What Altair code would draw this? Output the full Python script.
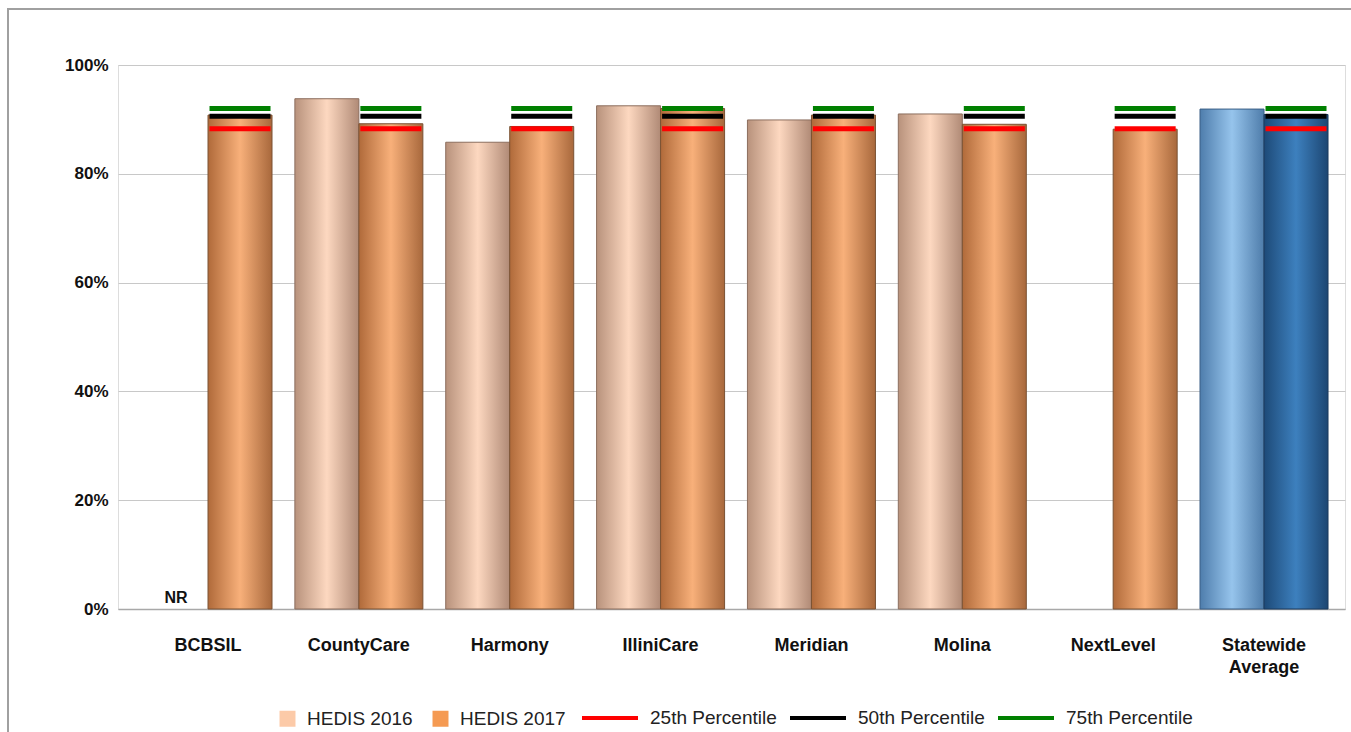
import altair as alt
import pandas as pd

# ---- data ----
plans = ["BCBSIL", "CountyCare", "Harmony", "IlliniCare", "Meridian",
         "Molina", "NextLevel", "Statewide Average"]
series_names = ["HEDIS 2016", "HEDIS 2017"]
hedis_2016 = [None, 93.8, 85.8, 92.5, 89.9, 91.0, None, 91.9]
hedis_2017 = [90.8, 89.2, 88.7, 92.0, 90.8, 89.1, 88.2, 90.9]
pct_names = ["25th Percentile", "50th Percentile", "75th Percentile"]
pct_values = [88.3, 90.6, 92.0]
pct_colors = ["#FF0000", "#000000", "#008000"]
legend_fill_colors = ["#FCCAA8", "#F59A52"]
nr_plan = "BCBSIL"

# ---- tables built from the arrays ----
rows = []
for p, v16, v17 in zip(plans, hedis_2016, hedis_2017):
    sw = p == "Statewide Average"
    if v16 is not None:
        rows.append({"plan": p, "series": "HEDIS 2016", "value": v16,
                     "group": "sw16" if sw else "mco16"})
    if v17 is not None:
        rows.append({"plan": p, "series": "HEDIS 2017", "value": v17,
                     "group": "sw17" if sw else "mco17"})
bars_df = pd.DataFrame(rows)

pct_df = pd.DataFrame([
    {"plan": p, "series": "HEDIS 2017", "percentile": n, "level": n, "value": v}
    for p in plans for n, v in zip(pct_names, pct_values)
])
pct_legend_df = pd.DataFrame({"percentile": pct_names, "value": pct_values})
nr_df = pd.DataFrame([{"plan": nr_plan, "series": "HEDIS 2016", "value": 0, "label": "NR"}])

FONT = "Liberation Sans"

X = alt.X("plan:N", sort=plans, title=None,
          scale=alt.Scale(domain=plans, paddingInner=0.1515, paddingOuter=0.1425, align=0.605),
          axis=alt.Axis(labelAngle=0, labelFontSize=18, labelFontWeight="bold", labelColor="#111",
                        labelFont=FONT, labelPadding=27, labelLineHeight=22,
                        labelExpr="datum.label == 'Statewide Average' ? ['Statewide', 'Average'] : datum.label",
                        ticks=False, domain=True, domainColor="#A8A8A8", domainWidth=1.5,
                        grid=False))
XO = alt.XOffset("series:N", scale=alt.Scale(domain=series_names))
Y = alt.Y("value:Q", title=None,
          scale=alt.Scale(domain=[0, 100], nice=False),
          axis=alt.Axis(values=[0, 20, 40, 60, 80, 100], labelExpr="datum.value + '%'",
                        labelFontSize=17, labelFontWeight="bold", labelColor="#111",
                        labelFont=FONT, labelPadding=10, ticks=False, domain=False,
                        grid=True, gridColor="#C8C8C8", gridWidth=1.2))


def grad(edge_l, mid, edge_r):
    return alt.Gradient(gradient="linear", x1=0, y1=0, x2=1, y2=0,
                        stops=[alt.GradientStop(offset=0, color=edge_l),
                               alt.GradientStop(offset=0.5, color=mid),
                               alt.GradientStop(offset=1, color=edge_r)])


def bar_layer(group, g, stroke):
    return (alt.Chart(bars_df).transform_filter(alt.datum.group == group)
            .mark_bar(color=g, stroke=stroke, strokeWidth=1)
            .encode(x=X, xOffset=XO, y=Y))


frame = alt.Chart(pd.DataFrame({"k": [0]})).mark_rect(
    fillOpacity=0, stroke="#A0A0A0", strokeWidth=2
).encode(x=alt.value(-110), x2=alt.value(1300), y=alt.value(-56), y2=alt.value(720))

bars16 = bar_layer("mco16", grad("#B8927C", "#FDD8C0", "#B08A76"), "#8C6E5E")
bars17 = bar_layer("mco17", grad("#B06A3A", "#F8B07A", "#A8683C"), "#7A5234")
sw16 = bar_layer("sw16", grad("#4E7DAC", "#96C4EC", "#4E7CAA"), "#3A5F86")
sw17 = bar_layer("sw17", grad("#1D4A78", "#3D80BE", "#1C4672"), "#1B3A5E")

# percentile marks (domain listed in reverse so this hidden-legend scale is not merged
# with the visible stroke legend below)
ticks = alt.Chart(pct_df).mark_tick(thickness=5, size=61, opacity=1).encode(
    x=X, xOffset=XO, y=Y,
    color=alt.Color("level:N", scale=alt.Scale(domain=pct_names[::-1], range=pct_colors[::-1]),
                    legend=None)
)

nr = alt.Chart(nr_df).mark_text(fontWeight="bold", fontSize=16, font=FONT, baseline="bottom",
                                dy=-3, color="#111").encode(x=X, xOffset=XO, y=Y, text="label:N")

fill_legend = alt.Chart(bars_df).mark_square(opacity=0).encode(
    x=X, xOffset=XO, y=Y,
    fill=alt.Fill("series:N", scale=alt.Scale(domain=series_names, range=legend_fill_colors),
                  legend=alt.Legend(orient="none", legendX=160, legendY=644, direction="horizontal",
                                    title=None, symbolType="square", symbolSize=256,
                                    symbolOpacity=1, symbolStrokeWidth=0, labelFontSize=19,
                                    labelFont=FONT, labelColor="#222", labelOffset=10,
                                    columnPadding=18))
)

stroke_legend = alt.Chart(pct_legend_df).mark_rule(opacity=0).encode(
    y=Y,
    stroke=alt.Stroke("percentile:N", scale=alt.Scale(domain=pct_names, range=pct_colors),
                      legend=alt.Legend(orient="none", legendX=462, legendY=623, direction="horizontal",
                                        title=None, symbolType="stroke", symbolSize=3136,
                                        symbolStrokeWidth=4, symbolOpacity=1, labelFontSize=19,
                                        labelFont=FONT, labelColor="#222", labelOffset=10,
                                        columnPadding=5))
)

chart = alt.layer(frame, bars16, bars17, sw16, sw17, ticks, nr, fill_legend, stroke_legend).properties(
    width=1227, height=544,
    padding={"left": 118, "top": 65, "right": 6, "bottom": 123},
    autosize="none",
).configure_view(stroke=None).configure(font=FONT)

chart.save("out.html", embed_options={"renderer": "svg", "actions": False})
